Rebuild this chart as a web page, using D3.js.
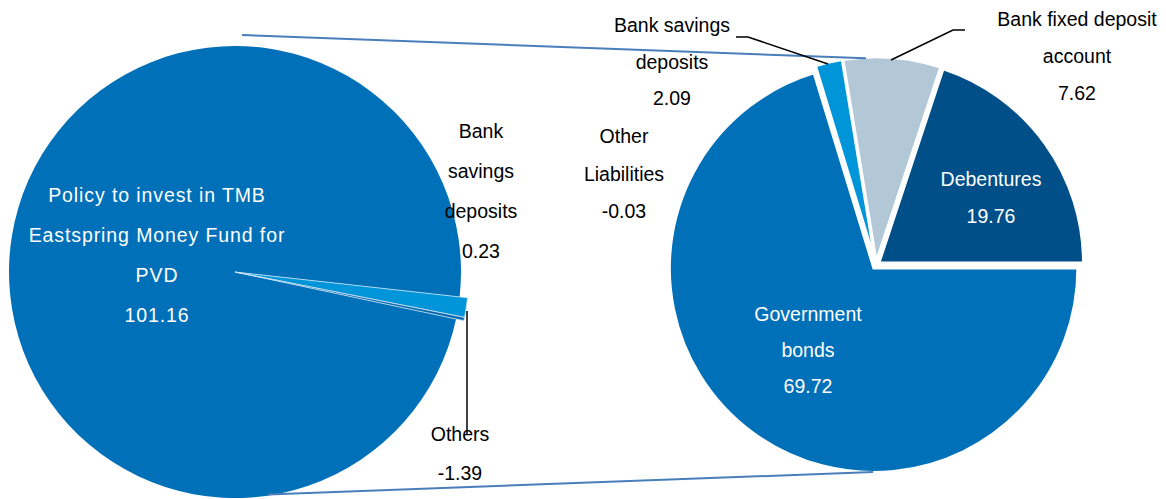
<!DOCTYPE html>
<html>
<head>
<meta charset="utf-8">
<script src="https://cdn.jsdelivr.net/npm/d3@7"></script>
<style>
  body { margin: 0; background: #fff; }
  text { font-family: "Liberation Sans", Arial, sans-serif; font-size: 19.5px; }
</style>
</head>
<body>
<script>
// left pie: main fund, bank savings, others
var leftNames = ["Policy to invest in TMB Eastspring Money Fund for PVD", "Others", "Bank savings deposits"];
var leftValues = [101.16, -1.39, 0.23];
var leftColors = ["#0070b8", "#0095d9", "#0a67ad"];

// right pie: breakdown
var rightNames = ["Government bonds", "Other Liabilities", "Bank savings deposits", "Bank fixed deposit account", "Debentures"];
var rightValues = [69.72, -0.03, 2.09, 7.62, 19.76];
var rightColors = ["#0070b8", "#0070b8", "#0095d9", "#b3c8d6", "#004f88"];

var W = 1166, H = 499;
var deg = Math.PI / 180;

var svg = d3.select("body").append("svg")
    .attr("width", W)
    .attr("height", H);

function pt(c, a, r) { return [c[0] + r * Math.sin(a), c[1] - r * Math.cos(a)]; }

// ---- left pie
var lc = [235, 272], lr = 226;
var leftPie = d3.pie().sort(null).value((d) => Math.abs(d))
    .startAngle(102 * deg).endAngle(462 * deg);
var leftArcs = leftPie(leftValues);

svg.append("g").attr("transform", `translate(${lc})`)
    .selectAll("path")
    .data(leftArcs)
    .enter()
    .append("path")
    .attr("d", (d, i) => d3.arc().innerRadius(0).outerRadius(i === 0 ? lr : lr + 8)(d))
    .attr("fill", (d, i) => leftColors[i])
    .attr("stroke", (d, i) => i === 0 ? "none" : "#cfe6f5")
    .attr("stroke-width", 0.8);

// ---- right pie
var rc = [876, 265], rr = 204, explode = 4;
var rightPie = d3.pie().sort(null).value((d) => Math.abs(d))
    .startAngle(90 * deg).endAngle(450 * deg);
var rightArcs = rightPie(rightValues);
var rArc = d3.arc().innerRadius(0).outerRadius(rr);

svg.append("g").attr("transform", `translate(${rc})`)
    .selectAll("path")
    .data(rightArcs)
    .enter()
    .append("path")
    .attr("transform", (d) => {
        var m = (d.startAngle + d.endAngle) / 2;
        return `translate(${explode * Math.sin(m)},${-explode * Math.cos(m)})`;
    })
    .attr("d", rArc)
    .attr("fill", (d, i) => rightColors[i])
    .attr("stroke", "#fff")
    .attr("stroke-width", 2.5);

// ---- connector lines
var conn = svg.append("g").attr("stroke", "#4a7ebb").attr("stroke-width", 2).attr("fill", "none");
conn.append("line")
    .attr("x1", pt(lc, 1.7 * deg, 237)[0]).attr("y1", pt(lc, 1.7 * deg, 237)[1])
    .attr("x2", pt(rc, -2.8 * deg, 207)[0]).attr("y2", pt(rc, -2.8 * deg, 207)[1]);
conn.append("line")
    .attr("x1", pt(lc, 171.6 * deg, 225)[0]).attr("y1", pt(lc, 171.6 * deg, 225)[1])
    .attr("x2", pt(rc, 180.8 * deg, 207)[0]).attr("y2", pt(rc, 180.8 * deg, 207)[1]);

// ---- leader lines
var lead = svg.append("g").attr("stroke", "#000").attr("stroke-width", 1.5).attr("fill", "none");
lead.append("polyline").attr("points", "467,311 467,434");
lead.append("polyline").attr("points", "736,37 748,37 828,64");
lead.append("polyline").attr("points", "891,60 953,30 965,30");

// ---- labels
function label(x, y, gap, lines, color, spacing) {
    var t = svg.append("text")
        .attr("text-anchor", "middle")
        .attr("fill", color)
        .attr("letter-spacing", spacing || 0);
    lines.forEach((s, i) => {
        t.append("tspan").attr("x", x).attr("y", y + i * gap).text(s);
    });
}
function fmt(v) { return v.toFixed(2); }

label(157, 202, 40, ["Policy to invest in TMB", "Eastspring Money Fund for", "PVD", fmt(leftValues[0])], "#fff", 0.9);
label(481, 138, 40, ["Bank", "savings", "deposits", fmt(leftValues[2])], "#000");
label(460, 441, 39, [leftNames[1], fmt(leftValues[1])], "#000");

label(808, 321, 36, ["Government", "bonds", fmt(rightValues[0])], "#fff");
label(991, 186, 37, [rightNames[4], fmt(rightValues[4])], "#fff");
label(1077, 26, 37, ["Bank fixed deposit", "account", fmt(rightValues[3])], "#000");
label(672, 32, 36.5, ["Bank savings", "deposits", fmt(rightValues[2])], "#000");
label(624, 143, 37.5, ["Other", "Liabilities", fmt(rightValues[1])], "#000");
</script>
</body>
</html>
